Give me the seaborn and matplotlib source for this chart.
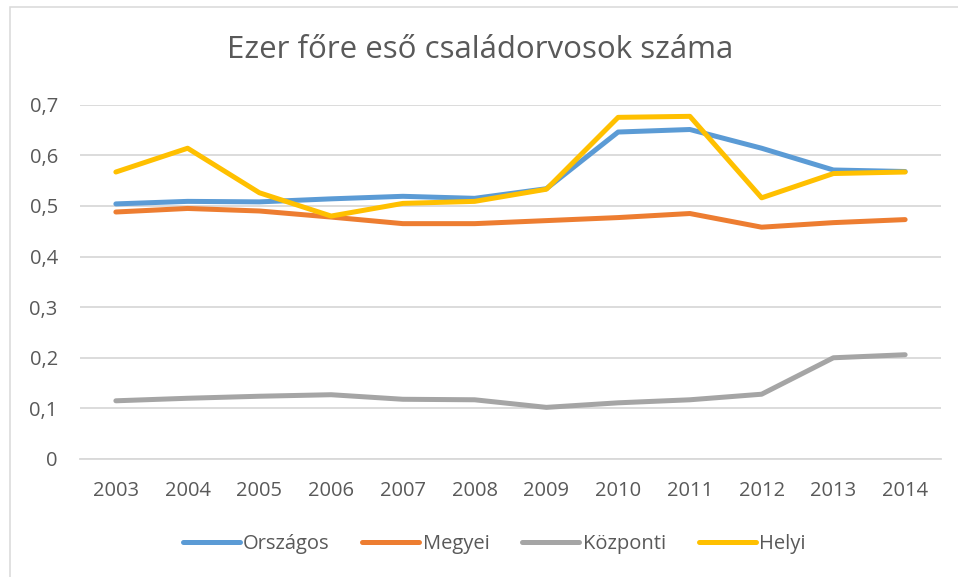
import pandas as pd
import matplotlib
matplotlib.use("Agg")
import matplotlib.pyplot as plt
from matplotlib.patches import Rectangle
import seaborn as sns

# ============================================================
# data
# ============================================================
YEARS = ["2003", "2004", "2005", "2006", "2007", "2008",
         "2009", "2010", "2011", "2012", "2013", "2014"]
ORSZAGOS = [0.504, 0.509, 0.508, 0.514, 0.519, 0.515, 0.534, 0.646, 0.651, 0.614, 0.571, 0.568]
MEGYEI = [0.488, 0.495, 0.490, 0.478, 0.465, 0.465, 0.471, 0.477, 0.485, 0.458, 0.467, 0.473]
KOZPONTI = [0.115, 0.120, 0.124, 0.127, 0.118, 0.117, 0.102, 0.111, 0.117, 0.128, 0.200, 0.206]
HELYI = [0.567, 0.614, 0.526, 0.480, 0.505, 0.509, 0.533, 0.675, 0.677, 0.516, 0.564, 0.567]

SERIES = ["Országos", "Megyei", "Központi", "Helyi"]
COLORS = ["#5B9BD5", "#ED7D31", "#A5A5A5", "#FFC000"]
Y_TICKS = [0, 0.1, 0.2, 0.3, 0.4, 0.5, 0.6, 0.7]
TITLE = "Ezer főre eső családorvosok száma"

df = pd.DataFrame({
    "ev": YEARS * 4,
    "ertek": ORSZAGOS + MEGYEI + KOZPONTI + HELYI,
    "sorozat": [s for s in SERIES for _ in YEARS],
})

TEXT = "#595959"
GRID = "#D9D9D9"

sns.set_theme(style="white")
plt.rcParams["font.family"] = ["Open Sans", "DejaVu Sans"]

fig = plt.figure(figsize=(9.58, 5.77), dpi=100)
ax = fig.add_axes([80 / 958, 1 - 459 / 577, 861 / 958, (459 - 104.7) / 577])

sns.lineplot(data=df, x="ev", y="ertek", hue="sorozat", hue_order=SERIES,
             palette=COLORS, linewidth=3.6, solid_capstyle="round",
             sort=False, ax=ax, legend=True)

ax.set_xlim(-0.5, len(YEARS) - 0.5)
ax.set_ylim(0, 0.7)
ax.set_yticks(Y_TICKS)
ax.set_yticklabels([f"{v:.1f}".replace(".", ",") if v else "0" for v in Y_TICKS])
ax.yaxis.grid(True, color=GRID, linewidth=1.3)
ax.set_axisbelow(True)
for s in ax.spines.values():
    s.set_visible(False)
ax.spines["bottom"].set_visible(True)
ax.spines["bottom"].set_color(GRID)
ax.spines["bottom"].set_linewidth(1.3)
ax.tick_params(axis="both", length=0, labelsize=14.5, colors=TEXT)
ax.tick_params(axis="y", pad=16)
ax.tick_params(axis="x", pad=16)
ax.set_xlabel("")
ax.set_ylabel("")

handles, labels = ax.get_legend_handles_labels()
leg = ax.legend(handles, labels, loc="center", bbox_to_anchor=(494 / 958, 1 - 544 / 577),
                bbox_transform=fig.transFigure, ncol=4, frameon=False,
                fontsize=14.5, handlelength=2.83, handletextpad=0.15,
                columnspacing=1.65, labelcolor=TEXT)
for h in leg.get_lines():
    h.set_linewidth(3.6)
    h.set_solid_capstyle("round")

fig.text(480 / 958, 1 - 58 / 577, TITLE, ha="center", va="baseline",
         fontsize=22.5, color=TEXT)

# chart-area border, like the Excel frame
fig.patches.append(Rectangle((9.5 / 958, -0.05), 1.0, 1 - 6.5 / 577 + 0.05,
                             transform=fig.transFigure, fill=False,
                             edgecolor=GRID, linewidth=1.1))

fig.savefig("out.png", dpi=100)
